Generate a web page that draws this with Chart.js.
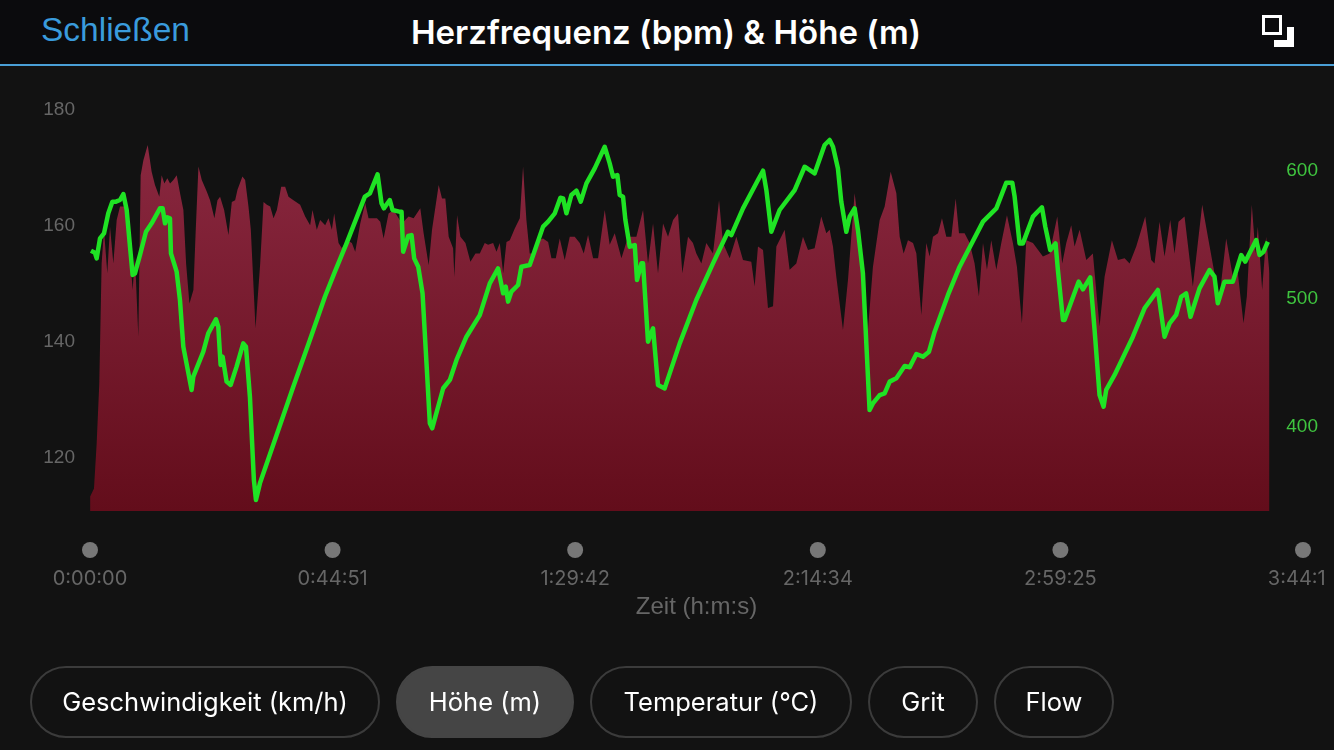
<!DOCTYPE html>
<html lang="de">
<head>
<meta charset="utf-8">
<title>Herzfrequenz (bpm) & Höhe (m)</title>
<script src="https://cdn.jsdelivr.net/npm/chart.js@4"></script>
<style>
  html, body { margin: 0; padding: 0; width: 1334px; height: 750px; overflow: hidden; background: #121212; }
  #header { position: absolute; left: 0; top: 0; width: 1334px; height: 64px; background: #0b0b0d; border-bottom: 2px solid #4a9fd6; }
  #close { position: absolute; left: 41px; top: 11px; color: #3a9bdc; font: 33.5px "Liberation Sans", sans-serif; }
  #title { position: absolute; left: 0; top: 12px; width: 1332px; text-align: center; color: #fff; font: 600 33px Inter, sans-serif; }
  #expand { position: absolute; left: 1262px; top: 15px; }
  #chart { position: absolute; left: 0; top: 0; }
  .pill { position: absolute; top: 666px; height: 68px; line-height: 68px; text-align: center; color: #fff; box-sizing: content-box;
          font: 25.5px/68px Inter, sans-serif; border: 2px solid #3b3b3b; border-radius: 36px; }
  .pill.active { background: #454545; border-color: #454545; }
</style>
</head>
<body>
<canvas id="chart" width="1325" height="750"></canvas>
<div id="header">
  <div id="close">Schließen</div>
  <div id="title">Herzfrequenz (bpm) &amp; Höhe (m)</div>
  <svg id="expand" width="32" height="32" viewBox="0 0 32 32">
    <rect x="1.5" y="1.5" width="17" height="17" fill="none" stroke="#fff" stroke-width="3"/>
    <path d="M25 12h7v20H12v-7h13z" fill="#fff"/>
  </svg>
</div>
<div class="pill" style="left:30px;width:346px">Geschwindigkeit (km/h)</div>
<div class="pill active" style="left:396px;width:174px">Höhe (m)</div>
<div class="pill" style="left:590px;width:258px">Temperatur (°C)</div>
<div class="pill" style="left:868px;width:106px">Grit</div>
<div class="pill" style="left:994px;width:116px">Flow</div>

<script>
// Sekunden seit Start und Herzfrequenz (bpm)
const hrSeconds = [
    0, 2, 44, 74, 103, 129, 155, 192, 222, 259, 296, 333, 407, 451, 473, 499, 536, 562, 592, 640,
    684, 721, 769, 795, 825, 858, 888, 925, 962, 999, 1036, 1066, 1103, 1147, 1173, 1203, 1240, 1295, 1332, 1380,
    1414, 1443, 1488, 1536, 1573, 1610, 1636, 1691, 1721, 1758, 1784, 1836, 1888, 1925, 1962, 1999, 2036, 2073, 2121, 2165,
    2202, 2257, 2331, 2387, 2442, 2468, 2516, 2553, 2609, 2646, 2683, 2709, 2757, 2794, 2850, 2905, 2942, 2998, 3053, 3090,
    3183, 3220, 3257, 3312, 3367, 3460, 3534, 3590, 3664, 3701, 3757, 3794, 3868, 3905, 3942, 3979, 4028, 4042, 4072, 4109,
    4165, 4220, 4276, 4324, 4379, 4416, 4472, 4509, 4546, 4583, 4620, 4657, 4712, 4768, 4804, 4841, 4878, 4915, 4971, 5026,
    5082, 5119, 5167, 5211, 5266, 5322, 5377, 5433, 5477, 5525, 5581, 5636, 5710, 5765, 5821, 5895, 5969, 6061, 6135, 6190,
    6246, 6301, 6357, 6412, 6468, 6523, 6571, 6634, 6689, 6726, 6782, 6837, 6911, 6978, 7022, 7096, 7170, 7244, 7336, 7373,
    7410, 7466, 7521, 7577, 7614, 7706, 7761, 7835, 7909, 7965, 8038, 8112, 8168, 8205, 8242, 8279, 8353, 8408, 8482, 8556,
    8630, 8685, 8760, 8815, 8882, 8945, 8982, 9026, 9074, 9130, 9167, 9222, 9277, 9314, 9351, 9407, 9451, 9499, 9555, 9603,
    9640, 9702, 9758, 9813, 9861, 9906, 9950, 9998, 10054, 10109, 10172, 10238, 10283, 10338, 10386, 10460, 10571, 10645, 10730, 10785,
    10830, 10885, 10922, 10978, 11052, 11125, 11199, 11255, 11336, 11403, 11477, 11532, 11606, 11706, 11772, 11809, 11865, 11920, 11983, 12031,
    12075, 12142, 12234, 12338, 12401, 12474, 12530, 12604, 12678, 12733, 12796, 12833, 12888, 12929, 12955, 13003, 13047, 13084
];
const hrBpm = [
    110.5, 113.0, 114.4, 122.2, 132.5, 153.2, 159.0, 151.5, 159.5, 153.2, 160.7, 163.0, 163.0, 153.2, 148.6, 154.4, 140.6, 168.4, 171.0, 173.6,
    169.0, 166.7, 164.7, 168.4, 167.0, 167.9, 167.0, 167.6, 168.4, 165.3, 162.4, 153.2, 146.3, 148.6, 159.0, 169.9, 167.6, 165.6, 164.1, 161.0,
    164.1, 164.7, 162.4, 158.1, 163.8, 164.1, 165.9, 168.2, 167.6, 163.0, 159.0, 142.0, 153.2, 163.8, 163.3, 163.0, 161.0, 162.4, 166.4, 166.4,
    164.7, 164.1, 163.3, 161.3, 159.8, 162.4, 159.0, 160.7, 159.8, 161.0, 159.0, 161.8, 156.7, 155.8, 157.2, 156.7, 155.2, 160.1, 163.6, 161.0,
    161.0, 160.4, 157.5, 161.8, 162.4, 160.1, 161.3, 161.0, 162.7, 158.4, 152.9, 159.0, 166.7, 164.4, 164.4, 157.8, 155.8, 150.9, 161.5, 157.8,
    156.7, 153.5, 154.9, 154.9, 156.7, 156.4, 156.7, 155.2, 156.7, 151.5, 156.9, 157.2, 159.2, 161.0, 169.9, 160.7, 154.9, 154.9, 157.2, 157.5,
    156.9, 154.1, 154.1, 157.5, 153.8, 157.8, 157.8, 156.7, 154.9, 158.1, 154.1, 154.1, 162.4, 156.4, 158.4, 154.1, 157.8, 157.8, 162.4, 153.2,
    160.1, 151.5, 160.1, 157.8, 160.7, 161.8, 151.5, 157.8, 156.7, 154.9, 153.2, 156.7, 154.9, 164.1, 156.7, 154.1, 157.8, 153.8, 153.5, 149.2,
    156.1, 155.5, 145.5, 145.8, 156.1, 159.0, 152.1, 153.2, 157.8, 155.5, 155.8, 161.3, 158.4, 159.0, 156.1, 150.9, 141.7, 150.3, 165.3, 156.1,
    141.7, 152.6, 160.7, 163.0, 169.0, 165.3, 157.8, 154.9, 157.2, 156.7, 154.9, 144.3, 156.7, 154.4, 157.8, 158.4, 161.0, 157.8, 157.8, 164.4,
    158.4, 158.4, 156.7, 153.2, 147.5, 156.7, 152.1, 157.2, 152.1, 156.7, 161.5, 156.7, 152.6, 142.9, 157.2, 156.7, 154.4, 154.9, 161.3, 153.2,
    156.7, 159.8, 156.1, 159.0, 153.8, 154.9, 142.3, 150.9, 157.2, 153.8, 154.1, 153.2, 156.1, 161.3, 153.8, 153.2, 160.4, 154.4, 160.7, 154.9,
    160.4, 161.3, 149.2, 163.3, 157.8, 151.5, 147.5, 157.5, 150.9, 151.5, 142.9, 147.5, 163.3, 154.9, 159.5, 148.6, 157.8, 151.5
];

// Sekunden seit Start und Höhe (m)
const altSeconds = [
    11, 55, 74, 111, 155, 203, 248, 288, 333, 370, 407, 444, 473, 499, 554, 621, 684, 776, 806, 832,
    858, 887, 898, 961, 998, 1035, 1127, 1146, 1257, 1312, 1397, 1423, 1449, 1471, 1515, 1560, 1626, 1700, 1730, 1774,
    1818, 1841, 1885, 2070, 2255, 2439, 2606, 2717, 2846, 3049, 3105, 3190, 3234, 3260, 3326, 3356, 3430, 3456, 3474, 3530,
    3567, 3596, 3641, 3689, 3733, 3770, 3796, 3918, 3992, 4066, 4176, 4324, 4435, 4527, 4583, 4612, 4638, 4675, 4749, 4786,
    4878, 5026, 5082, 5156, 5218, 5248, 5285, 5340, 5396, 5444, 5507, 5599, 5710, 5765, 5802, 5850, 5876, 5913, 5939, 5987,
    6043, 6068, 6117, 6135, 6190, 6246, 6301, 6375, 6542, 6726, 6911, 7077, 7114, 7244, 7410, 7466, 7503, 7558, 7650, 7817,
    7928, 8038, 8149, 8205, 8242, 8297, 8334, 8390, 8427, 8482, 8519, 8574, 8648, 8685, 8760, 8815, 8871, 8945, 9037, 9093,
    9167, 9240, 9307, 9370, 9518, 9647, 9906, 10054, 10164, 10231, 10257, 10312, 10349, 10460, 10560, 10597, 10652, 10711, 10737, 10793,
    10811, 10967, 11015, 11096, 11144, 11199, 11244, 11273, 11366, 11569, 11698, 11846, 11920, 11976, 12049, 12105, 12160, 12208, 12308, 12419,
    12474, 12511, 12585, 12678, 12770, 12815, 12937, 12974, 13018, 13066
];
const altMeters = [
    536.2, 534.6, 530.2, 545.8, 549.7, 565.4, 574.5, 574.5, 575.8, 580.5, 568.0, 539.3, 517.2, 518.5, 532.8, 551.0, 557.6, 569.3, 569.3, 557.6,
    562.2, 561.5, 534.1, 519.8, 497.7, 461.2, 427.4, 437.8, 457.3, 471.6, 482.6, 476.8, 446.9, 453.4, 433.9, 431.3, 445.6, 463.8, 461.2, 422.1,
    357.0, 341.4, 354.4, 392.2, 429.9, 466.4, 500.2, 519.8, 541.9, 578.4, 581.0, 595.8, 573.2, 569.3, 575.8, 568.0, 566.7, 566.7, 535.4, 547.7,
    548.4, 530.2, 523.7, 502.9, 448.2, 401.3, 397.4, 428.7, 435.2, 450.8, 469.0, 485.9, 510.7, 522.4, 502.9, 508.1, 496.4, 504.2, 509.4, 523.7,
    525.0, 555.0, 558.9, 565.4, 577.6, 577.1, 565.4, 579.7, 583.1, 574.5, 588.8, 600.5, 617.4, 604.4, 594.0, 595.3, 579.7, 578.4, 560.2, 539.3,
    540.6, 513.3, 526.3, 526.3, 465.1, 475.5, 431.3, 428.6, 463.8, 497.7, 526.3, 551.0, 548.4, 569.3, 591.4, 598.7, 583.6, 551.0, 568.0, 583.6,
    601.8, 596.6, 618.8, 622.7, 617.5, 600.5, 574.5, 551.0, 562.8, 569.3, 552.3, 518.5, 411.7, 416.9, 423.4, 424.7, 433.9, 436.5, 446.1, 445.1,
    455.5, 453.4, 457.3, 472.9, 501.6, 523.7, 558.9, 569.3, 589.3, 589.3, 578.4, 541.9, 541.9, 562.8, 570.1, 555.0, 536.7, 541.9, 521.1, 482.0,
    482.0, 512.0, 506.0, 515.4, 474.2, 423.4, 414.3, 427.4, 439.1, 469.0, 491.2, 505.5, 469.0, 479.4, 486.0, 500.2, 502.9, 484.6, 506.8, 521.1,
    515.9, 495.1, 512.0, 512.0, 532.8, 527.6, 544.5, 532.8, 535.4, 543.2
];

// Achsenbeschriftungen
const bpmTicks = [120, 140, 160, 180];
const altTicks = [400, 500, 600];
const timeTicks = [0, 2691, 5382, 8074, 10765, 13456];
const timeLabels = ['0:00:00', '0:44:51', '1:29:42', '2:14:34', '2:59:25', '3:44:16'];

function toPoints(xs, ys) {
    return xs.map((x, i) => ({ x: x, y: ys[i] }));
}

// Verlauf der Herzfrequenz-Fläche
function areaGradient(context) {
    const area = context.chart.chartArea;
    if (!area) return '#75192c';
    const g = context.chart.ctx.createLinearGradient(0, 140, 0, area.bottom);
    g.addColorStop(0, '#8a2840');
    g.addColorStop(1, '#630d1b');
    return g;
}

// Graue Punkte über den Zeitbeschriftungen
const tickDots = {
    id: 'tickDots',
    afterDraw(chart) {
        const ctx = chart.ctx;
        ctx.save();
        ctx.fillStyle = '#777777';
        timeTicks.forEach(t => {
            ctx.beginPath();
            ctx.arc(chart.scales.x.getPixelForValue(t), 550, 8, 0, Math.PI * 2);
            ctx.fill();
        });
        ctx.restore();
    }
};

new Chart(document.getElementById('chart').getContext('2d'), {
    type: 'line',
    plugins: [tickDots],
    data: {
        datasets: [
            {
                label: 'Höhe (m)',
                data: toPoints(altSeconds, altMeters),
                yAxisID: 'yAlt',
                borderColor: '#1fe324',
                borderWidth: 4.5,
                borderJoinStyle: 'round',
                pointRadius: 0,
                tension: 0,
                fill: false
            },
            {
                label: 'Herzfrequenz (bpm)',
                data: toPoints(hrSeconds, hrBpm),
                yAxisID: 'yBpm',
                borderWidth: 0,
                backgroundColor: areaGradient,
                pointRadius: 0,
                tension: 0,
                fill: 'start'
            }
        ]
    },
    options: {
        responsive: false,
        animation: false,
        layout: { padding: { top: 108, bottom: 128, left: 0, right: 0 } },
        plugins: { legend: { display: false }, tooltip: { enabled: false } },
        scales: {
            x: {
                type: 'linear',
                min: 0,
                max: 13456,
                grid: { display: false },
                border: { display: false },
                afterBuildTicks: s => { s.ticks = timeTicks.map(v => ({ value: v })); },
                afterFit: s => { s.height = 111; s.paddingLeft = 0; s.paddingRight = 0; },
                ticks: {
                    autoSkip: false,
                    maxRotation: 0,
                    padding: 48,
                    color: '#666666',
                    font: { family: 'Inter', size: 20 },
                    callback: value => timeLabels[timeTicks.indexOf(value)]
                },
                title: {
                    display: true,
                    text: 'Zeit (h:m:s)',
                    color: '#666666',
                    font: { family: 'Liberation Sans', size: 24 },
                    padding: 0
                }
            },
            yBpm: {
                position: 'left',
                min: 110.5,
                max: 180,
                grid: { display: false },
                border: { display: false },
                afterBuildTicks: s => { s.ticks = bpmTicks.map(v => ({ value: v })); },
                afterFit: s => { s.width = 90; },
                ticks: { padding: 7, labelOffset: 2, color: '#666666', font: { family: 'Liberation Sans', size: 19 } }
            },
            yAlt: {
                position: 'right',
                min: 332.8,
                max: 647.7,
                grid: { display: false },
                border: { display: false },
                afterBuildTicks: s => { s.ticks = altTicks.map(v => ({ value: v })); },
                afterFit: s => { s.width = 22; },
                ticks: { mirror: true, padding: 15, labelOffset: 2, color: '#3fc43f', font: { family: 'Liberation Sans', size: 19 } }
            }
        }
    }
});
</script>
</body>
</html>
